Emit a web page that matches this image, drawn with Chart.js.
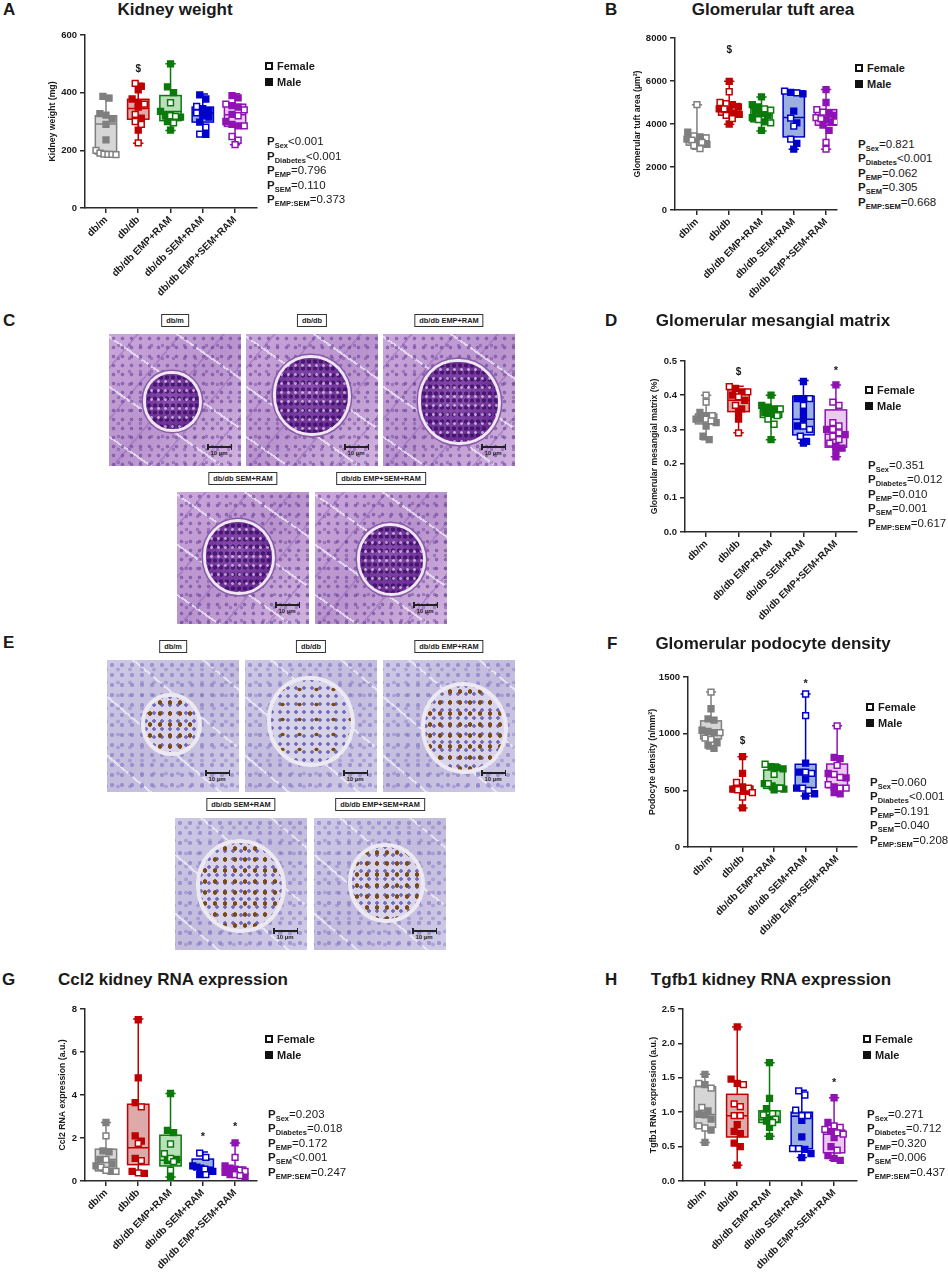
<!DOCTYPE html>
<html>
<head>
<meta charset="utf-8">
<script src="https://cdn.jsdelivr.net/npm/chart.js@4.4.1/dist/chart.umd.min.js"></script>
<style>
  html, body { margin: 0; padding: 0; background: #fff; }
  body { width: 948px; height: 1272px; position: relative; overflow: hidden;
         font-family: Arial, "Liberation Sans", Helvetica, sans-serif; color: #1a1a1a; }
  .letter, .title { position: absolute; font-weight: bold; font-size: 17px; line-height: 17px; white-space: nowrap; }
  .title { transform: translateX(-50%); }
  .legend { position: absolute; font-weight: bold; font-size: 11px; }
  .legend div { display: flex; align-items: center; height: 16px; }
  .legend .sq { width: 8px; height: 8px; box-sizing: border-box; margin-right: 4px; }
  .pvals { position: absolute; font-size: 11.5px; white-space: nowrap; }
  .pvals div { height: 14.5px; line-height: 14.5px; }
  .pvals b { font-weight: bold; }
  .pvals sub { font-size: 7.5px; font-weight: bold; vertical-align: -3px; line-height: 0; }
  canvas { position: absolute; }
  .lab { position: absolute; border: 1.5px solid #333; font-weight: bold; font-size: 7.4px; line-height: 11px;
         white-space: nowrap; background: #fff; transform: translateX(-50%); padding: 0 4px; }
  .img { position: absolute; width: 132px; height: 132px; overflow: hidden; }
  .img.pas { background:
      radial-gradient(circle, rgba(96,58,150,.55) 0 1.6px, transparent 2.2px) 0 0/9px 9px,
      radial-gradient(circle, rgba(96,58,150,.4) 0 1.5px, transparent 2.1px) 4px 5px/11px 13px,
      repeating-linear-gradient(35deg, transparent 0 23px, rgba(244,238,249,.7) 23px 25px, transparent 25px 41px),
      repeating-linear-gradient(-50deg, transparent 0 31px, rgba(150,100,185,.45) 31px 33px),
      linear-gradient(135deg, #caa7db, #b993cd 50%, #d1b3df); }
  .img.ihc { background:
      radial-gradient(circle, rgba(112,100,190,.5) 0 1.8px, transparent 2.4px) 0 0/10px 10px,
      radial-gradient(circle, rgba(112,100,190,.35) 0 1.6px, transparent 2.2px) 5px 3px/12px 13px,
      repeating-linear-gradient(40deg, transparent 0 27px, rgba(240,238,248,.75) 27px 29px, transparent 29px 45px),
      linear-gradient(135deg, #cdc8e5, #c3bcdd 50%, #d0cbe6); }
  .glom { position: absolute; border-radius: 48% 52% 50% 50%; }
  .pas .glom { background:
      radial-gradient(circle, rgba(255,255,255,.55) 0 1.1px, transparent 1.7px) 2px 3px/7px 9px,
      radial-gradient(circle, rgba(55,12,95,.75) 0 1.8px, transparent 2.4px) 0 0/6px 7px,
      radial-gradient(circle at 45% 45%, #8d52b2, #6c2e95 70%, #7e3fa4);
      box-shadow: 0 0 0 3px #efe7f4, 0 0 0 4.5px #8a5aa8; }
  .ihc .glom { background:
      radial-gradient(ellipse, #7c4a14 0 1.8px, transparent 2.4px) 0 0/10px 11px,
      radial-gradient(circle, rgba(80,70,170,.75) 0 1.5px, transparent 2px) 5px 4px/8px 8px,
      #d9d4ea;
      box-shadow: 0 0 0 4px #ece9f3; }
  .ihc .glom.few { background:
      radial-gradient(ellipse, #7c4a14 0 1.8px, transparent 2.4px) 3px 2px/17px 15px,
      radial-gradient(circle, rgba(80,70,170,.75) 0 1.5px, transparent 2px) 5px 4px/8px 8px,
      #d6d2e8; }
  .bar { position: absolute; height: 1.5px; background: #222; }
  .bar:before, .bar:after { content: ''; position: absolute; top: -2px; width: 1.5px; height: 5.5px; background: #222; }
  .bar:before { left: 0; } .bar:after { right: 0; }
  .um { position: absolute; font-size: 6px; font-weight: bold; color: #222; transform: translateX(-50%); white-space: nowrap; }
</style>
</head>
<body>
<script>
// groups shared by all charts
var GROUPS = ['db/m', 'db/db', 'db/db EMP+RAM', 'db/db SEM+RAM', 'db/db EMP+SEM+RAM'];
var P_NAMES = ['Sex', 'Diabetes', 'EMP', 'SEM', 'EMP:SEM'];

// A - kidney weight (mg)
var kwMin = [183, 225, 269, 252, 219];
var kwQ1 = [187, 308, 303, 298, 283];
var kwMed = [291, 345, 335, 330, 323];
var kwQ3 = [320, 377, 390, 350, 360];
var kwMax = [390, 433, 500, 395, 396];
var kwMale = [
  [387, 381, 327, 322, 308, 290, 236],
  [422, 410, 378, 362, 350, 312, 270],
  [500, 420, 400, 335, 320, 315, 300, 270],
  [392, 378, 345, 338, 320, 315, 298, 255],
  [390, 382, 355, 350, 325, 300, 290, 285]
];
var kwFemale = [
  [200, 190, 187, 186, 186, 185],
  [432, 360, 325, 300, 290, 226],
  [365, 320, 318, 295],
  [352, 330, 280, 256],
  [360, 340, 320, 285, 248, 235, 220]
];
var kwMarks = ['', '$', '', '', ''];
var kwMarkY = [0, 482, 0, 0, 0];
var kwP = ['<0.001', '<0.001', '=0.796', '=0.110', '=0.373'];

// B - glomerular tuft area (um2)
var taMin = [2830, 3990, 3680, 2830, 2830];
var taQ1 = [3015, 4410, 4100, 3400, 3945];
var taMed = [3280, 4765, 4410, 4300, 4330];
var taQ3 = [3480, 4950, 4720, 5540, 4670];
var taMax = [4900, 5990, 5260, 5570, 5600];
var taMale = [
  [3620, 3400, 3300, 3200, 3050],
  [5980, 4900, 4800, 4700, 4600, 4500, 4450, 4000],
  [5260, 4900, 4800, 4600, 4500, 4400, 4300, 4100, 3700],
  [5470, 5400, 4600, 4050, 3100, 2830],
  [5600, 5000, 4500, 4400, 4200, 4100, 3950, 3700]
];
var taFemale = [
  [4900, 3450, 3350, 3250, 3150, 3000, 2850],
  [5500, 5000, 4950, 4700, 4400, 4250],
  [4700, 4650, 4200, 4050],
  [5530, 5450, 4270, 3900, 3300],
  [4670, 4550, 4300, 4250, 4100, 3150, 2830]
];
var taMarks = ['', '$', '', '', ''];
var taMarkY = [0, 7430, 0, 0, 0];
var taP = ['=0.821', '<0.001', '=0.062', '=0.305', '=0.668'];

// D - glomerular mesangial matrix (%)
var mmMin = [0.27, 0.29, 0.27, 0.26, 0.22];
var mmQ1 = [0.316, 0.352, 0.335, 0.284, 0.248];
var mmMed = [0.33, 0.385, 0.357, 0.33, 0.286];
var mmQ3 = [0.345, 0.416, 0.367, 0.397, 0.357];
var mmMax = [0.40, 0.426, 0.40, 0.443, 0.43];
var mmMale = [
  [0.35, 0.34, 0.33, 0.33, 0.32, 0.31, 0.28, 0.27],
  [0.42, 0.41, 0.40, 0.385, 0.36, 0.35, 0.33],
  [0.40, 0.37, 0.365, 0.36, 0.35, 0.345, 0.27],
  [0.44, 0.39, 0.39, 0.35, 0.33, 0.31, 0.265, 0.26],
  [0.43, 0.30, 0.285, 0.25, 0.245, 0.24, 0.22]
];
var mmFemale = [
  [0.40, 0.38, 0.34, 0.33, 0.325],
  [0.425, 0.41, 0.395, 0.37, 0.29],
  [0.36, 0.34, 0.33, 0.315],
  [0.39, 0.37, 0.31, 0.30, 0.28],
  [0.38, 0.37, 0.32, 0.31, 0.30, 0.29, 0.28, 0.27, 0.26]
];
var mmMarks = ['', '$', '', '', '*'];
var mmMarkY = [0, 0.468, 0, 0, 0.479];
var mmP = ['=0.351', '=0.012', '=0.010', '=0.001', '=0.617'];

// F - podocyte density (n/mm2)
var pdMin = [865, 345, 505, 449, 464];
var pdQ1 = [954, 487, 517, 523, 523];
var pdMed = [1028, 511, 545, 665, 620];
var pdQ3 = [1113, 537, 679, 730, 732];
var pdMax = [1367, 797, 732, 1350, 1069];
var pdMale = [
  [1220, 1130, 1120, 1030, 1020, 1010, 920, 900, 870],
  [797, 650, 530, 510, 500, 490, 345],
  [710, 700, 690, 560, 540, 520, 510, 505],
  [740, 660, 600, 520, 470, 450],
  [790, 780, 650, 610, 530, 480, 470]
];
var pdFemale = [
  [1367, 1010, 960, 950],
  [570, 520, 505, 480, 440],
  [730, 640, 560, 520],
  [1350, 1160, 660, 650, 520, 500],
  [1069, 720, 640, 615, 550, 520, 520]
];
var pdMarks = ['', '$', '', '*', ''];
var pdMarkY = [0, 930, 0, 1462, 0];
var pdP = ['=0.060', '<0.001', '=0.191', '=0.040', '=0.208'];

// G - Ccl2 RNA expression (a.u.)
var ccMin = [0.45, 0.34, 0.19, 0.26, 0.19];
var ccQ1 = [0.47, 0.76, 0.70, 0.57, 0.30];
var ccMed = [1.0, 1.55, 0.96, 0.63, 0.5];
var ccQ3 = [1.48, 3.57, 2.13, 1.02, 0.65];
var ccMax = [2.72, 7.53, 4.07, 1.35, 1.77];
var ccMale = [
  [2.72, 1.4, 1.35, 1.0, 0.8, 0.7, 0.45],
  [7.5, 4.8, 3.65, 2.1, 1.85, 1.05, 0.45, 0.35],
  [4.07, 2.35, 2.25, 1.0, 0.95, 0.18],
  [0.7, 0.65, 0.6, 0.5, 0.45, 0.3],
  [1.77, 0.7, 0.6, 0.55, 0.4, 0.3, 0.2]
];
var ccFemale = [
  [2.1, 1.0, 0.65, 0.5, 0.45],
  [3.45, 1.75, 0.95, 0.38],
  [1.72, 1.27, 1.05, 0.9, 0.5],
  [1.3, 1.1, 0.55, 0.3],
  [1.1, 0.5, 0.45, 0.3, 0.25]
];
var ccMarks = ['', '', '', '*', '*'];
var ccMarkY = [0, 0, 0, 2.17, 2.64];
var ccP = ['=0.203', '=0.018', '=0.172', '<0.001', '=0.247'];

// H - Tgfb1 RNA expression (a.u.)
var tgMin = [0.56, 0.23, 0.65, 0.34, 0.30];
var tgQ1 = [0.78, 0.64, 0.85, 0.47, 0.41];
var tgMed = [0.966, 0.95, 0.89, 0.94, 0.68];
var tgQ3 = [1.37, 1.26, 1.02, 1.0, 0.74];
var tgMax = [1.55, 2.24, 1.72, 1.32, 1.21];
var tgMale = [
  [1.55, 1.4, 1.02, 0.97, 0.96, 0.9, 0.74, 0.56],
  [2.24, 1.48, 1.42, 0.82, 0.72, 0.69, 0.55, 0.5, 0.23],
  [1.72, 1.2, 1.05, 0.92, 0.87, 0.78, 0.65],
  [0.88, 0.64, 0.46, 0.40, 0.34],
  [1.21, 0.85, 0.72, 0.63, 0.5, 0.37, 0.33, 0.30]
];
var tgFemale = [
  [1.42, 1.35, 1.07, 0.80, 0.77],
  [1.40, 1.12, 1.08, 0.95, 0.95],
  [0.98, 0.96, 0.9, 0.85],
  [1.31, 1.25, 1.03, 0.95, 0.95, 0.47, 0.47],
  [0.80, 0.78, 0.75, 0.70, 0.68, 0.45]
];
var tgMarks = ['', '', '', '', '*'];
var tgMarkY = [0, 0, 0, 0, 1.47];
var tgP = ['=0.271', '=0.712', '=0.320', '=0.006', '=0.437'];

(function() {
  'use strict';

  var FONT = 'Arial, "Liberation Sans", Helvetica, sans-serif';
  var AXIS = '#2a2a2a';
  var LINE = ['#7f7f7f', '#c00000', '#0b7a0b', '#0000cc', '#9012b4'];
  var FILL = ['#d6d6d6', '#dea9a9', '#b9e0b9', '#9bb0de', '#ebcaf2'];
  var PAD_T = 10, PAD_R = 10, X_H = 120;
  var BOX_HALF = 0.33, CAP_HALF = 0.16, STEP = 0.19;

  var PANELS = [
    { axisX: 85, axisEnd: 257, yTop: 35, yBot: 208, yw: 38, xMin: -0.65, xMax: 4.68,
      yMax: 600, yStep: 200, dec: 0, yTitle: 'Kidney weight (mg)',
      stats: [kwMin, kwQ1, kwMed, kwQ3, kwMax], male: kwMale, female: kwFemale, marks: kwMarks, markY: kwMarkY },
    { axisX: 675, axisEnd: 837, yTop: 38, yBot: 210, yw: 43, xMin: -0.68, xMax: 4.34,
      yMax: 8000, yStep: 2000, dec: 0, yTitle: 'Glomerular tuft area (\u00b5m\u00b2)',
      stats: [taMin, taQ1, taMed, taQ3, taMax], male: taMale, female: taFemale, marks: taMarks, markY: taMarkY },
    { axisX: 685, axisEnd: 857, yTop: 361, yBot: 532, yw: 36, xMin: -0.65, xMax: 4.65,
      yMax: 0.5, yStep: 0.1, dec: 1, yTitle: 'Glomerular mesangial matrix (%)',
      stats: [mmMin, mmQ1, mmMed, mmQ3, mmMax], male: mmMale, female: mmFemale, marks: mmMarks, markY: mmMarkY },
    { axisX: 688, axisEnd: 857, yTop: 677, yBot: 847, yw: 41, xMin: -0.73, xMax: 4.63,
      yMax: 1500, yStep: 500, dec: 0, yTitle: 'Podocyte density (n/mm\u00b2)',
      stats: [pdMin, pdQ1, pdMed, pdQ3, pdMax], male: pdMale, female: pdFemale, marks: pdMarks, markY: pdMarkY },
    { axisX: 85, axisEnd: 257, yTop: 1009, yBot: 1181, yw: 28, xMin: -0.65, xMax: 4.68,
      yMax: 8, yStep: 2, dec: 0, yTitle: 'Ccl2 RNA expression (a.u.)',
      stats: [ccMin, ccQ1, ccMed, ccQ3, ccMax], male: ccMale, female: ccFemale, marks: ccMarks, markY: ccMarkY },
    { axisX: 683, axisEnd: 857, yTop: 1009, yBot: 1181, yw: 35, xMin: -0.68, xMax: 4.71,
      yMax: 2.5, yStep: 0.5, dec: 1, yTitle: 'Tgfb1 RNA expression (a.u.)',
      stats: [tgMin, tgQ1, tgMed, tgQ3, tgMax], male: tgMale, female: tgFemale, marks: tgMarks, markY: tgMarkY }
  ];

  var TEXTS = [
    { letter: 'A', lx: 3, title: 'Kidney weight', tx: 175, ty: 9.5, legX: 265, legY: 66, px: 267, py: 141.7, p: kwP },
    { letter: 'B', lx: 605, title: 'Glomerular tuft area', tx: 773, ty: 9.5, legX: 855, legY: 68, px: 858, py: 144, p: taP },
    { letter: 'D', lx: 605, title: 'Glomerular mesangial matrix', tx: 773, ty: 320.5, legX: 865, legY: 390, px: 868, py: 465, p: mmP },
    { letter: 'F', lx: 607, title: 'Glomerular podocyte density', tx: 773, ty: 643, legX: 866, legY: 707, px: 870, py: 782, p: pdP },
    { letter: 'G', lx: 2, title: 'Ccl2 kidney RNA expression', tx: 173, ty: 979, legX: 265, legY: 1039, px: 268, py: 1114, p: ccP },
    { letter: 'H', lx: 605, title: 'Tgfb1 kidney RNA expression', tx: 771, ty: 979, legX: 863, legY: 1039, px: 867, py: 1114, p: tgP }
  ];

  var HISTO = [
    { kind: 'pas', label: 'db/m', x: 109, y: 334, gx: 0.48, gy: 0.5, gr: 0.2 },
    { kind: 'pas', label: 'db/db', x: 246, y: 334, gx: 0.5, gy: 0.45, gr: 0.27 },
    { kind: 'pas', label: 'db/db EMP+RAM', x: 383, y: 334, gx: 0.58, gy: 0.5, gr: 0.29 },
    { kind: 'pas', label: 'db/db SEM+RAM', x: 177, y: 492, gx: 0.47, gy: 0.48, gr: 0.25 },
    { kind: 'pas', label: 'db/db EMP+SEM+RAM', x: 315, y: 492, gx: 0.58, gy: 0.5, gr: 0.24 },
    { kind: 'ihc', label: 'db/m', x: 107, y: 660, gx: 0.49, gy: 0.48, gr: 0.2 },
    { kind: 'ihc', label: 'db/db', x: 245, y: 660, gx: 0.5, gy: 0.45, gr: 0.3, few: true },
    { kind: 'ihc', label: 'db/db EMP+RAM', x: 383, y: 660, gx: 0.62, gy: 0.5, gr: 0.3 },
    { kind: 'ihc', label: 'db/db SEM+RAM', x: 175, y: 818, gx: 0.5, gy: 0.5, gr: 0.31 },
    { kind: 'ihc', label: 'db/db EMP+SEM+RAM', x: 314, y: 818, gx: 0.55, gy: 0.48, gr: 0.26 }
  ];

  function el(tag, cls, css, html) {
    var e = document.createElement(tag);
    if (cls) e.className = cls;
    if (css) e.style.cssText = css;
    if (html != null) e.innerHTML = html;
    document.body.appendChild(e);
    return e;
  }

  // spread points of similar value sideways, like a column scatter
  function spread(values, threshold) {
    var order = values.map(function(v, i) { return i; })
      .sort(function(a, b) { return values[b] - values[a]; });
    var offsets = [];
    var bin = [];
    function flush() {
      var n = bin.length;
      var step = n > 1 ? Math.min(STEP, 0.62 / (n - 1)) : 0;
      bin.forEach(function(i, k) { offsets[i] = (k - (n - 1) / 2) * step; });
      bin = [];
    }
    order.forEach(function(i) {
      if (bin.length && values[bin[0]] - values[i] > threshold) flush();
      bin.push(i);
    });
    flush();
    return offsets;
  }

  function boxPlugin(p) {
    return {
      id: 'boxes',
      beforeDatasetsDraw: function(chart) {
        var xs = chart.scales.x, ys = chart.scales.y, ctx = chart.ctx;
        var s = p.stats;
        ctx.save();
        GROUPS.forEach(function(g, i) {
          var cx = xs.getPixelForValue(i);
          var hw = xs.getPixelForValue(i + BOX_HALF) - cx;
          var cw = xs.getPixelForValue(i + CAP_HALF) - cx;
          var yMin = ys.getPixelForValue(s[0][i]), yQ1 = ys.getPixelForValue(s[1][i]);
          var yMed = ys.getPixelForValue(s[2][i]), yQ3 = ys.getPixelForValue(s[3][i]);
          var yMax = ys.getPixelForValue(s[4][i]);
          ctx.fillStyle = FILL[i];
          ctx.fillRect(cx - hw, yQ3, 2 * hw, yQ1 - yQ3);
          ctx.strokeStyle = LINE[i];
          ctx.lineWidth = 1.5;
          ctx.strokeRect(cx - hw, yQ3, 2 * hw, yQ1 - yQ3);
          ctx.beginPath();
          ctx.moveTo(cx - hw, yMed); ctx.lineTo(cx + hw, yMed);
          ctx.moveTo(cx, yQ3); ctx.lineTo(cx, yMax);
          ctx.moveTo(cx - cw, yMax); ctx.lineTo(cx + cw, yMax);
          ctx.moveTo(cx, yQ1); ctx.lineTo(cx, yMin);
          ctx.moveTo(cx - cw, yMin); ctx.lineTo(cx + cw, yMin);
          ctx.stroke();
        });
        ctx.restore();
      },
      afterDatasetsDraw: function(chart) {
        var xs = chart.scales.x, ys = chart.scales.y, ctx = chart.ctx;
        ctx.save();
        ctx.fillStyle = '#1a1a1a';
        ctx.textAlign = 'center';
        ctx.textBaseline = 'middle';
        p.marks.forEach(function(m, i) {
          if (!m) return;
          ctx.font = 'bold ' + (m === '*' ? 11 : 10) + 'px ' + FONT;
          ctx.fillText(m, xs.getPixelForValue(i), ys.getPixelForValue(p.markY[i]) + (m === '*' ? 3 : 0));
        });
        ctx.restore();
      }
    };
  }

  function renderPanel(p) {
    var w = p.yw + (p.axisEnd - p.axisX) + PAD_R;
    var h = (p.yBot - p.yTop) + PAD_T + X_H;
    var canvas = el('canvas', null, 'left:' + (p.axisX - p.yw) + 'px;top:' + (p.yTop - PAD_T) + 'px;');
    canvas.width = w;
    canvas.height = h;
    canvas.style.width = w + 'px';
    canvas.style.height = h + 'px';

    var thr = p.yMax * 0.035;
    var datasets = GROUPS.map(function(g, i) {
      var vals = p.male[i].concat(p.female[i]);
      var nMale = p.male[i].length;
      var off = spread(vals, thr);
      return {
        type: 'scatter',
        label: g,
        data: vals.map(function(v, k) { return { x: i + off[k], y: v }; }),
        pointStyle: 'rect',
        pointRadius: 4.1,
        pointHoverRadius: 4.1,
        borderWidth: 1.5,
        pointBorderColor: LINE[i],
        pointBackgroundColor: vals.map(function(v, k) { return k < nMale ? LINE[i] : '#ffffff'; })
      };
    });

    var yTicks = [];
    for (var t = 0; t * p.yStep <= p.yMax + 1e-9; t++) yTicks.push(+(t * p.yStep).toFixed(3));

    new Chart(canvas, {
      type: 'scatter',
      data: { datasets: datasets },
      options: {
        responsive: false,
        animation: false,
        events: [],
        layout: { autoPadding: false, padding: { top: PAD_T, right: PAD_R, left: 0, bottom: 0 } },
        plugins: { legend: { display: false }, tooltip: { enabled: false } },
        scales: {
          x: {
            type: 'linear', min: p.xMin, max: p.xMax,
            afterBuildTicks: function(axis) { axis.ticks = GROUPS.map(function(g, i) { return { value: i }; }); },
            afterFit: function(s) { s.height = X_H; },
            ticks: {
              autoSkip: false, minRotation: 45, maxRotation: 45, padding: 1, color: '#1a1a1a',
              font: { family: FONT, size: 10, weight: 'bold' },
              callback: function(v) { return GROUPS[v]; }
            },
            grid: { drawOnChartArea: false, drawTicks: true, tickLength: 5, color: AXIS, lineWidth: 1.5 },
            border: { color: AXIS, width: 1.5 }
          },
          y: {
            min: 0, max: p.yMax,
            afterBuildTicks: function(axis) { axis.ticks = yTicks.map(function(v) { return { value: v }; }); },
            afterFit: function(s) { s.width = p.yw; },
            ticks: {
              padding: 3, color: '#1a1a1a',
              font: { family: FONT, size: 9.5, weight: 'bold' },
              callback: function(v) { return p.dec ? v.toFixed(p.dec) : String(Math.round(v)); }
            },
            title: {
              display: true, text: p.yTitle, color: '#1a1a1a', padding: 0,
              font: { family: FONT, size: 8.7, weight: 'bold' }
            },
            grid: { drawOnChartArea: false, drawTicks: true, tickLength: 5, color: AXIS, lineWidth: 1.5 },
            border: { color: AXIS, width: 1.5 }
          }
        }
      },
      plugins: [boxPlugin(p)]
    });
  }

  function renderTexts(t) {
    el('div', 'letter', 'left:' + t.lx + 'px;top:' + (t.ty - 8.5) + 'px;', t.letter);
    el('div', 'title', 'left:' + t.tx + 'px;top:' + (t.ty - 8.5) + 'px;', t.title);
    el('div', 'legend', 'left:' + t.legX + 'px;top:' + (t.legY - 8) + 'px;',
      '<div><span class="sq" style="border:2px solid #111"></span>Female</div>' +
      '<div><span class="sq" style="background:#111"></span>Male</div>');
    var html = P_NAMES.map(function(n, i) {
      return '<div><b>P</b><sub>' + n + '</sub>' + t.p[i].replace('<', '&lt;') + '</div>';
    }).join('');
    el('div', 'pvals', 'left:' + t.px + 'px;top:' + (t.py - 7.25) + 'px;', html);
  }

  function renderHisto(hs) {
    var img = el('div', 'img ' + hs.kind, 'left:' + hs.x + 'px;top:' + hs.y + 'px;');
    var r = hs.gr * 132;
    var g = document.createElement('div');
    g.className = 'glom' + (hs.few ? ' few' : '');
    g.style.cssText = 'left:' + (hs.gx * 132 - r) + 'px;top:' + (hs.gy * 132 - r) + 'px;width:' +
      (2 * r) + 'px;height:' + (2 * r * 1.05) + 'px;';
    img.appendChild(g);
    var bar = document.createElement('div');
    bar.className = 'bar';
    bar.style.cssText = 'left:98px;top:112px;width:25px;';
    img.appendChild(bar);
    var um = document.createElement('div');
    um.className = 'um';
    um.style.cssText = 'left:110px;top:116px;';
    um.textContent = '10 \u00b5m';
    img.appendChild(um);
    el('div', 'lab', 'left:' + (hs.x + 66) + 'px;top:' + (hs.y - 20) + 'px;', hs.label);
  }

  PANELS.forEach(renderPanel);
  TEXTS.forEach(renderTexts);
  HISTO.forEach(renderHisto);
  el('div', 'letter', 'left:3px;top:311.5px;', 'C');
  el('div', 'letter', 'left:3px;top:634px;', 'E');
})();
</script>
</body>
</html>
